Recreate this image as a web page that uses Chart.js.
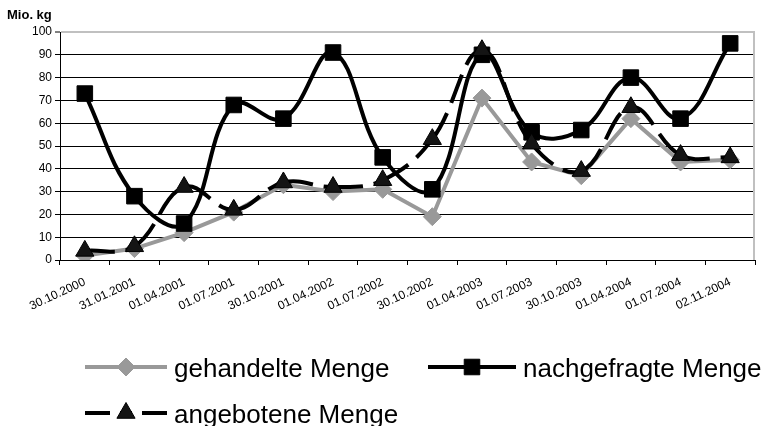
<!DOCTYPE html>
<html>
<head>
<meta charset="utf-8">
<script src="https://cdn.jsdelivr.net/npm/chart.js@4.4.1/dist/chart.umd.min.js"></script>
<style>
  html, body { margin: 0; padding: 0; background: #fff; }
  #wrap { position: relative; width: 767px; height: 426px; }
</style>
</head>
<body>
<div id="wrap"><canvas id="c"></canvas></div>
<script>
// Stichtage
const categories = ['30.10.2000', '31.01.2001', '01.04.2001', '01.07.2001', '30.10.2001', '01.04.2002', '01.07.2002',
                    '30.10.2002', '01.04.2003', '01.07.2003', '30.10.2003', '01.04.2004', '01.07.2004', '02.11.2004'];
// Mengen in Mio. kg
const gehandelteMenge  = [2, 5, 12, 21, 33, 30, 31, 19, 71, 43, 37, 62, 43, 44];
const nachgefragteMenge = [73, 28, 16, 68, 62, 91, 45, 31, 90, 56, 57, 80, 62, 95];
const angeboteneMenge  = [4, 6, 32, 22, 34, 32, 35, 53, 92, 51, 39, 67, 46, 45];
// y-Achse
const yMin = 0, yMax = 100, yStep = 10;
const yTitle = 'Mio. kg';
const seriesNames = ['gehandelte Menge', 'nachgefragte Menge', 'angebotene Menge'];

const FONT = '"Liberation Sans", Arial, Helvetica, sans-serif';
Chart.defaults.font.family = FONT;
Chart.defaults.color = '#000';

// Legend drawn under the chart: line sample with marker, then the label
const bottomLegend = {
  id: 'bottomLegend',
  afterDraw(chart) {
    const ctx = chart.ctx;
    const slots = [
      { x: 85,  y: 367, w: 82 },
      { x: 428, y: 367, w: 88 },
      { x: 85,  y: 413, w: 82 }
    ];
    chart.data.datasets.forEach((ds, i) => {
      const s = slots[i];
      const cx = s.x + s.w / 2;
      ctx.save();
      ctx.strokeStyle = ds.borderColor;
      ctx.lineWidth = ds.borderWidth;
      ctx.lineCap = 'butt';
      if (ds.legendDash) {
        // dash pattern runs from each outer end towards the marker
        ctx.setLineDash(ds.legendDash);
        ctx.beginPath(); ctx.moveTo(s.x, s.y); ctx.lineTo(cx, s.y); ctx.stroke();
        ctx.beginPath(); ctx.moveTo(s.x + s.w, s.y); ctx.lineTo(cx, s.y); ctx.stroke();
        ctx.setLineDash([]);
      } else {
        ctx.beginPath(); ctx.moveTo(s.x, s.y); ctx.lineTo(s.x + s.w, s.y); ctx.stroke();
      }
      ctx.fillStyle = ds.pointBackgroundColor;
      ctx.strokeStyle = ds.pointBorderColor;
      ctx.lineWidth = ds.pointBorderWidth;
      Chart.helpers.drawPoint(ctx, {
        pointStyle: ds.pointStyle, radius: ds.pointRadius,
        borderWidth: ds.pointBorderWidth, rotation: 0
      }, cx, s.y);
      ctx.fillStyle = '#000';
      ctx.font = '26px ' + FONT;
      ctx.textBaseline = 'alphabetic';
      ctx.textAlign = 'left';
      ctx.fillText(ds.label, s.x + s.w + 7, s.y + 10);
      ctx.restore();
    });
  }
};

// Unit label above the value axis and the grey frame on the right
const frameAndUnit = {
  id: 'frameAndUnit',
  beforeDatasetsDraw(chart) {
    const { ctx, chartArea } = chart;
    ctx.save();
    ctx.strokeStyle = '#c0c0c0';
    ctx.lineWidth = 2;
    ctx.beginPath();
    ctx.moveTo(chartArea.right - 1, chartArea.top - 1);
    ctx.lineTo(chartArea.right - 1, chartArea.bottom);
    ctx.stroke();
    ctx.restore();
  },
  afterDraw(chart) {
    const ctx = chart.ctx;
    ctx.save();
    ctx.fillStyle = '#000';
    ctx.font = 'bold 13px ' + FONT;
    ctx.textBaseline = 'middle';
    ctx.textAlign = 'left';
    ctx.fillText(yTitle, 7, 15);
    ctx.restore();
  }
};

new Chart(document.getElementById('c'), {
  type: 'line',
  data: {
    labels: categories,
    datasets: [
      {
        label: seriesNames[0],
        data: gehandelteMenge,
        borderColor: '#999999',
        borderWidth: 4,
        tension: 0,
        pointStyle: 'rectRot',
        pointRadius: 9,
        pointHoverRadius: 9,
        pointBackgroundColor: '#999999',
        pointBorderColor: '#999999',
        pointBorderWidth: 1,
        order: 3
      },
      {
        label: seriesNames[1],
        data: nachgefragteMenge,
        borderColor: '#000000',
        borderWidth: 4,
        tension: 0.4,
        borderJoinStyle: 'round',
        pointStyle: 'rect',
        pointRadius: 11,
        pointHoverRadius: 11,
        pointBackgroundColor: '#000000',
        pointBorderColor: '#000000',
        pointBorderWidth: 1,
        order: 2
      },
      {
        label: seriesNames[2],
        data: angeboteneMenge,
        borderColor: '#000000',
        borderWidth: 4,
        borderDash: [30, 11],
        legendDash: [25, 10],
        tension: 0.4,
        pointStyle: 'triangle',
        pointRadius: 10.5,
        pointHoverRadius: 10.5,
        pointBackgroundColor: '#141414',
        pointBorderColor: '#000000',
        pointBorderWidth: 1,
        // each segment is stroked on its own so the dashes restart at every point
        segment: { borderDashOffset: c => (c.p0DataIndex % 2) ? 0.001 : 0 },
        order: 1
      }
    ]
  },
  options: {
    responsive: true,
    maintainAspectRatio: false,
    animation: false,
    events: [],
    layout: { padding: { top: 32, right: 7, bottom: 106, left: 0 } },
    plugins: {
      legend: { display: false },
      tooltip: { enabled: false },
      title: { display: false }
    },
    scales: {
      x: {
        offset: true,
        grid: { offset: true, drawOnChartArea: false, color: '#000', tickColor: '#000', tickLength: 5, lineWidth: 1 },
        border: { color: '#000', width: 1 },
        ticks: { color: '#000', font: { size: 12 }, minRotation: 25, maxRotation: 25, autoSkip: false, padding: 10 },
        afterFit(scale) { scale.height = 60; }
      },
      y: {
        min: yMin,
        max: yMax,
        ticks: { stepSize: yStep, color: '#000', font: { size: 12 }, padding: 3 },
        grid: {
          color: c => (c.tick && c.tick.value === yMax) ? '#c0c0c0' : '#000',
          lineWidth: c => (c.tick && c.tick.value === yMax) ? 2 : 1,
          tickColor: '#000',
          tickWidth: 1,
          tickLength: 5
        },
        border: { color: '#000', width: 1 },
        afterFit(scale) { scale.width = 60; }
      }
    }
  },
  plugins: [frameAndUnit, bottomLegend]
});
</script>
</body>
</html>
